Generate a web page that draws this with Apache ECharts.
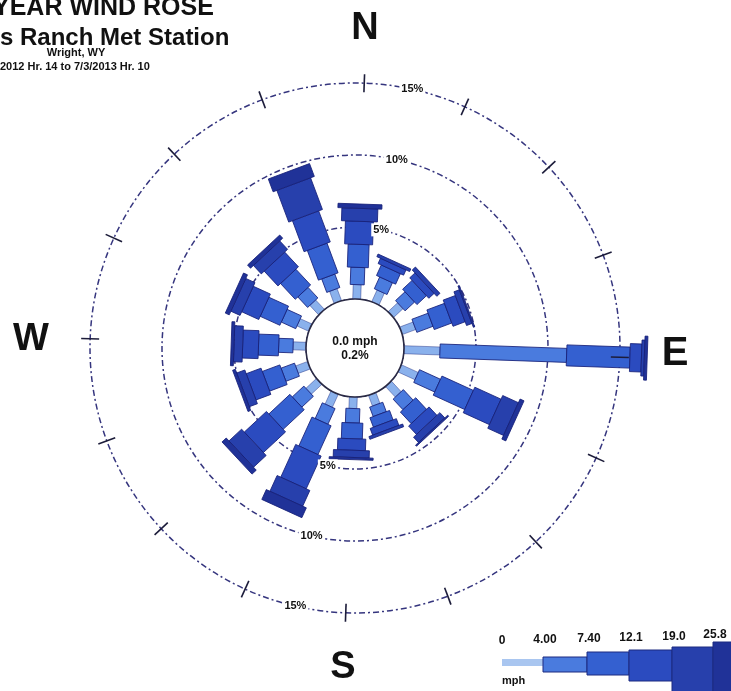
<!DOCTYPE html>
<html><head><meta charset="utf-8">
<script src="https://cdn.jsdelivr.net/npm/echarts/dist/echarts.min.js"></script>
<style>html,body{margin:0;padding:0;background:#fff}#c{width:731px;height:691px}</style>
</head><body><div id="c"></div>
<script>
// ---- data ----
const directions = ['N','NNE','NE','ENE','E','ESE','SE','SSE','S','SSW','SW','WSW','W','WNW','NW','NNW'];
const speedBreaks = ['0','4.00','7.40','12.1','19.0','25.8'];
// frequency (%) per direction for each wind speed class
const class0to4    = [1.0,0.9,0.9,1.0,2.5,1.3,1.0,0.8,0.8,1.0,1.0,0.9,0.9,0.9,0.9,0.9];
const class4to7    = [1.2,0.9,0.9,1.2,8.8,1.6,1.0,0.7,1.0,1.2,1.1,1.0,1.0,1.1,1.0,1.0];
const class7to12   = [1.6,0.8,0.9,1.3,4.4,2.4,1.1,0.7,1.1,2.2,2.0,1.3,1.4,1.5,1.5,2.2];
const class12to19  = [1.6,0.4,0.5,0.9,0.8,2.0,0.8,0.5,0.8,2.5,2.1,1.1,1.1,1.3,1.4,2.3];
const class19to26  = [0.9,0.2,0.3,0.4,0.2,1.2,0.5,0.2,0.5,1.2,1.2,0.6,0.6,0.7,0.8,2.35];
const class26plus  = [0.3,0.0,0.0,0.1,0.2,0.3,0.1,0.0,0.15,0.75,0.4,0.2,0.2,0.3,0.3,0.95];
const ringValues = [5, 10, 15];
const ringLabels = ['5%', '10%', '15%'];
const calmLines = ['0.0 mph', '0.2%'];
const titleLines = ['YEAR WIND ROSE', 's Ranch Met Station', 'Wright, WY', '2012 Hr. 14 to 7/3/2013 Hr. 10'];

// ---- styling ----
const classes = [class0to4, class4to7, class7to12, class12to19, class19to26, class26plus];
const classColors = ['#8ab1ec', '#4a7bde', '#3460d0', '#2b4bbf', '#2740ac', '#203298'];
const classWidths = [8, 14, 21, 28, 36, 44];
const FONT = '"Liberation Sans", Arial, sans-serif';
const ringColor = '#35357e';

const barData = [];
directions.forEach((d, i) => {
  let cum = 0;
  classes.forEach((arr, k) => {
    const v = arr[i];
    if (v > 0) barData.push([cum, cum + v, i * 22.5, k]);
    cum += v;
  });
});
const tickData = directions.map((d, i) => [15, i * 22.5]);
const labelData = [];
ringValues.forEach((v, j) => { labelData.push([v, 10.5, j]); labelData.push([v, 191, j]); });

const chart = echarts.init(document.getElementById('c'), null, {renderer: 'canvas'});

const legendGraphics = [];
const legX = [502, 543, 587, 629, 672, 713];
const legEnd = [543, 587, 629, 672, 713, 740];
const legTop = [659, 657, 652, 650, 647, 642];
const legBot = [666, 672, 675, 681, 695, 695];
for (let k = 0; k < 6; k++) {
  legendGraphics.push({type:'rect', shape:{x:legX[k], y:legTop[k], width:legEnd[k]-legX[k], height:legBot[k]-legTop[k]},
    style:{fill:k===0?'#a9c6f0':classColors[k], stroke:'#1d2a80', lineWidth:k===0?0:1}});
  legendGraphics.push({type:'text', x:legX[k] + (k===0?0:2), y:641 - k*1.2,
    style:{text:speedBreaks[k], font:'bold 12px ' + FONT, fill:'#111', align:'center', verticalAlign:'middle'}});
}
legendGraphics.push({type:'text', x:502, y:681, style:{text:'mph', font:'bold 11px ' + FONT, fill:'#111', align:'left', verticalAlign:'middle'}});

chart.setOption({
  animation: false,
  backgroundColor: '#fff',
  polar: {center: [355, 348], radius: [49, 265]},
  angleAxis: {type:'value', min:0, max:360, startAngle:88, clockwise:true,
    axisLine:{show:false}, axisTick:{show:false}, axisLabel:{show:false}, splitLine:{show:false}},
  radiusAxis: {type:'value', min:0, max:15, interval:5,
    axisLine:{show:false}, axisTick:{show:false}, axisLabel:{show:false},
    splitLine:{show:true, lineStyle:{color:ringColor, type:[6,3,2,3], width:1.5}}},
  graphic: [
    {type:'text', left:-7, top:-4, style:{text:titleLines[0], font:'bold 25px ' + FONT, fill:'#111'}},
    {type:'text', x:0, y:38, style:{text:titleLines[1], font:'bold 24px ' + FONT, fill:'#111', verticalAlign:'middle'}},
    {type:'text', x:76, y:53, style:{text:titleLines[2], font:'bold 11px ' + FONT, fill:'#111', align:'center', verticalAlign:'middle'}},
    {type:'text', x:0, y:67, style:{text:titleLines[3], font:'bold 11px ' + FONT, fill:'#111', verticalAlign:'middle'}},
    {type:'text', x:365, y:29, style:{text:'N', font:'bold 38px ' + FONT, fill:'#111', align:'center', verticalAlign:'middle'}},
    {type:'text', x:675, y:354, style:{text:'E', font:'bold 40px ' + FONT, fill:'#111', align:'center', verticalAlign:'middle'}},
    {type:'text', x:31, y:340, style:{text:'W', font:'bold 38px ' + FONT, fill:'#111', align:'center', verticalAlign:'middle'}},
    {type:'text', x:343, y:668, style:{text:'S', font:'bold 38px ' + FONT, fill:'#111', align:'center', verticalAlign:'middle'}}
  ].concat(legendGraphics),
  series: [
    {type:'custom', coordinateSystem:'polar', z:3, data: barData, encode:{radius:[0,1], angle:2},
      renderItem: function (params, api) {
        const r0 = api.value(0), r1 = api.value(1), ang = api.value(2), k = api.value(3);
        const p0 = api.coord([r0, ang]), p1 = api.coord([r1, ang]);
        const dx = p1[0]-p0[0], dy = p1[1]-p0[1];
        const len = Math.hypot(dx, dy) || 1;
        const nx = -dy/len, ny = dx/len, h = classWidths[k]/2;
        return {type:'polygon', shape:{points:[
          [p0[0]+nx*h, p0[1]+ny*h], [p1[0]+nx*h, p1[1]+ny*h],
          [p1[0]-nx*h, p1[1]-ny*h], [p0[0]-nx*h, p0[1]-ny*h]]},
          style:{fill:classColors[k], stroke:'rgba(22,32,120,0.85)', lineWidth:k===0?0.5:1}};
      }},
    {type:'custom', coordinateSystem:'polar', z:4, data: tickData, encode:{radius:0, angle:1},
      renderItem: function (params, api) {
        const p = api.coord([api.value(0), api.value(1)]);
        const cx = params.coordSys.cx, cy = params.coordSys.cy;
        const dx = p[0]-cx, dy = p[1]-cy, len = Math.hypot(dx, dy);
        const ux = dx/len, uy = dy/len;
        return {type:'line', shape:{x1:p[0]-ux*9, y1:p[1]-uy*9, x2:p[0]+ux*9, y2:p[1]+uy*9},
          style:{stroke:'#1c1c3a', lineWidth:1.6}};
      }},
    {type:'custom', coordinateSystem:'polar', z:5, data:[[0, 0]], encode:{radius:0, angle:1},
      renderItem: function (params, api) {
        const p = api.coord([0, 0]);
        const cx = params.coordSys.cx, cy = params.coordSys.cy;
        const r = Math.hypot(p[0]-cx, p[1]-cy);
        return {type:'group', children:[
          {type:'circle', shape:{cx:cx, cy:cy, r:r}, style:{fill:'#fff', stroke:'#2a2a44', lineWidth:1.6}},
          {type:'text', x:cx, y:cy-6, style:{text:calmLines[0], font:'bold 12px ' + FONT, fill:'#111', align:'center', verticalAlign:'middle'}},
          {type:'text', x:cx, y:cy+8, style:{text:calmLines[1], font:'bold 12px ' + FONT, fill:'#111', align:'center', verticalAlign:'middle'}}
        ]};
      }},
    {type:'custom', coordinateSystem:'polar', z:6, data: labelData, encode:{radius:0, angle:1},
      renderItem: function (params, api) {
        const p = api.coord([api.value(0), api.value(1)]);
        return {type:'text', x:p[0], y:p[1], style:{text:ringLabels[api.value(2)], font:'bold 11px ' + FONT,
          fill:'#111', align:'center', verticalAlign:'middle', backgroundColor:'#fff', padding:[1,2]}};
      }}
  ]
});
</script></body></html>
